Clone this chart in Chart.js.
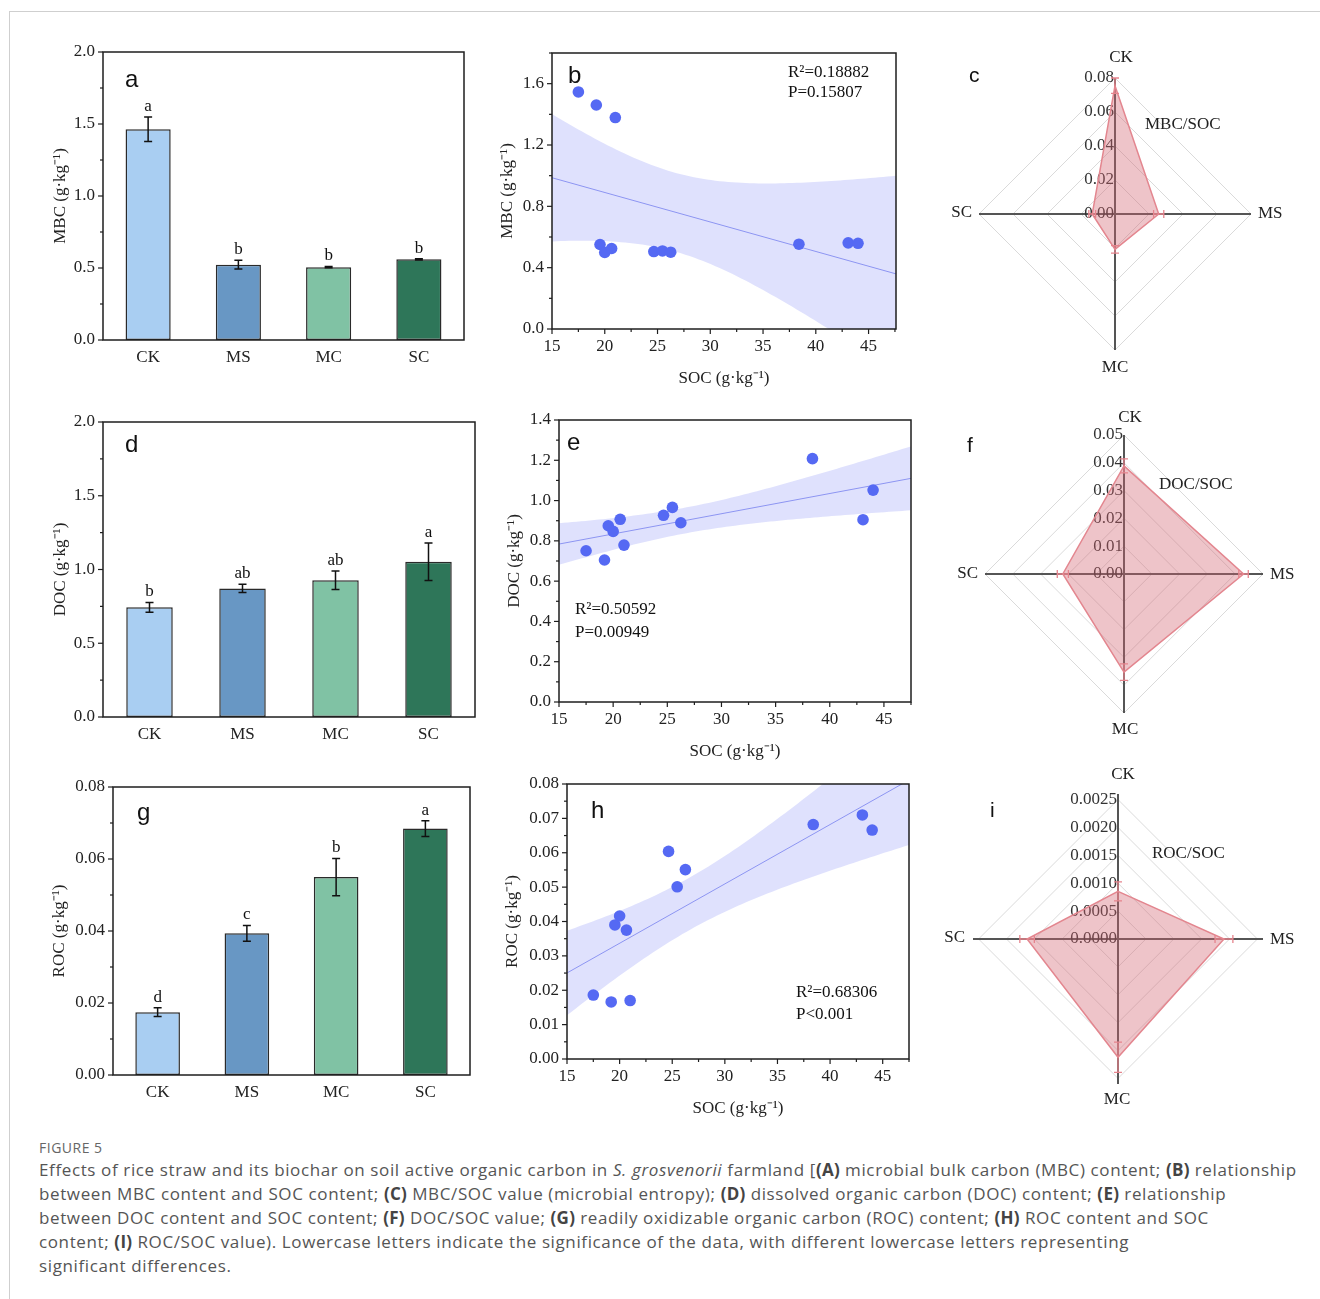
<!DOCTYPE html>
<html><head><meta charset="utf-8">
<script src="https://cdn.jsdelivr.net/npm/chart.js@4.4.1/dist/chart.umd.min.js"></script>
<style>
html,body{margin:0;padding:0;background:#fff}
body{width:1320px;height:1299px;position:relative;overflow:hidden}
canvas{position:absolute}
.frame{position:absolute;left:9px;top:11px;width:1400px;height:1400px;border-left:1px solid #cfcfcf;border-top:1px solid #cfcfcf}
#fig{position:absolute;left:39px;top:1138px;font:14px 'Open Sans',sans-serif;color:#666;letter-spacing:0.5px}
#cap{position:absolute;left:39px;top:1158px;font:17px/24px 'Open Sans',sans-serif;color:#555;white-space:nowrap;letter-spacing:0.62px}
#cap b{font-weight:700;color:#444;letter-spacing:0.3px}
</style></head><body>
<div class="frame"></div>
<div id="fig">FIGURE 5</div>
<div id="cap">Effects of rice straw and its biochar on soil active organic carbon in <i>S. grosvenorii</i> farmland [<b>(A)</b> microbial bulk carbon (MBC) content; <b>(B)</b> relationship<br>between MBC content and SOC content; <b>(C)</b> MBC/SOC value (microbial entropy); <b>(D)</b> dissolved organic carbon (DOC) content; <b>(E)</b> relationship<br>between DOC content and SOC content; <b>(F)</b> DOC/SOC value; <b>(G)</b> readily oxidizable organic carbon (ROC) content; <b>(H)</b> ROC content and SOC<br>content; <b>(I)</b> ROC/SOC value). Lowercase letters indicate the significance of the data, with different lowercase letters representing<br>significant differences.</div>
<script>
// ---------------- DATA ----------------
const groups = ['CK', 'MS', 'MC', 'SC'];
const barColors = ['#a9cef2', '#6897c4', '#80c2a4', '#2e7659'];

const mbcMean = [1.464, 0.523, 0.506, 0.560];
const mbcErr  = [0.085, 0.030, 0.005, 0.005];
const mbcSig  = ['a', 'b', 'b', 'b'];

const docMean = [0.744, 0.872, 0.927, 1.053];
const docErr  = [0.033, 0.028, 0.062, 0.127];
const docSig  = ['b', 'ab', 'ab', 'a'];

const rocMean = [0.01746, 0.03935, 0.05497, 0.06845];
const rocErr  = [0.0012, 0.0022, 0.0052, 0.0022];
const rocSig  = ['d', 'c', 'b', 'a'];

const soc    = [17.5, 19.2, 19.55, 20.0, 20.65, 21.0, 24.65, 25.47, 26.25, 38.4, 43.07, 44.0];
const mbcPts = [1.546, 1.461, 0.551, 0.499, 0.525, 1.379, 0.505, 0.509, 0.501, 0.553, 0.562, 0.559];
const docPts = [0.751, 0.705, 0.875, 0.847, 0.907, 0.779, 0.927, 0.966, 0.890, 1.208, 0.905, 1.052];
const rocPts = [0.0186, 0.0166, 0.0390, 0.0416, 0.0375, 0.0170, 0.0604, 0.0501, 0.0551, 0.0682, 0.0710, 0.0666];

const mbcRatio = [0.0755, 0.0257, 0.0208, 0.0134];
const mbcRatioErr = [0.0045, 0.0030, 0.0022, 0.0020];
const docRatio = [0.0389, 0.0430, 0.0353, 0.0220];
const docRatioErr = [0.0025, 0.0017, 0.0030, 0.0020];
const rocRatio = [0.000855, 0.00190, 0.00212, 0.00163];
const rocRatioErr = [0.00017, 0.00016, 0.00027, 0.00013];

const statsB = ['R\u00b2=0.18882', 'P=0.15807'];
const statsE = ['R\u00b2=0.50592', 'P=0.00949'];
const statsH = ['R\u00b2=0.68306', 'P<0.001'];

// ---------------- HELPERS ----------------
const SERIF = "'Liberation Serif','Times New Roman',serif";
const SANS = "'Liberation Sans',Arial,sans-serif";
Chart.defaults.font.family = SERIF;
Chart.defaults.color = '#222';

function mkCanvas(x, y, w, h) {
  const c = document.createElement('canvas');
  c.width = w; c.height = h;
  c.style.left = x + 'px'; c.style.top = y + 'px';
  c.style.width = w + 'px'; c.style.height = h + 'px';
  document.body.appendChild(c);
  return c;
}

const pageTexts = {
  id: 'pageTexts',
  afterDraw(chart, args, o) {
    if (!o || !o.items) return;
    const ctx = chart.ctx;
    o.items.forEach(it => {
      ctx.save();
      ctx.font = it.font; ctx.fillStyle = it.color || '#111';
      ctx.textAlign = it.align || 'left'; ctx.textBaseline = it.baseline || 'alphabetic';
      ctx.fillText(it.t, it.x - o.ox, it.y - o.oy);
      ctx.restore();
    });
  }
};

const frameTicks = {
  id: 'frameTicks',
  afterDatasetsDraw(chart, args, o) {
    if (!o || !o.on) return;
    const {ctx, chartArea: a, scales} = chart;
    ctx.save();
    ctx.strokeStyle = '#1e1e1e'; ctx.lineWidth = 1.5;
    ctx.strokeRect(a.left, a.top, a.right - a.left, a.bottom - a.top);
    ctx.lineWidth = 1.2;
    const ys = scales.y;
    for (let k = 0; ; k++) {
      const v = ys.min + k * o.yMinor;
      if (v > ys.max + 1e-9) break;
      const major = Math.abs(v / o.yMajor - Math.round(v / o.yMajor)) < 1e-6;
      const p = ys.getPixelForValue(v);
      ctx.beginPath(); ctx.moveTo(a.left, p); ctx.lineTo(a.left - (major ? 5 : 3), p); ctx.stroke();
    }
    if (o.xMinor) {
      const xs = scales.x;
      for (let k = 0; ; k++) {
        const v = xs.min + k * o.xMinor;
        if (v > xs.max + 1e-9) break;
        const major = Math.abs(v / o.xMajor - Math.round(v / o.xMajor)) < 1e-6;
        const p = xs.getPixelForValue(v);
        ctx.beginPath(); ctx.moveTo(p, a.bottom); ctx.lineTo(p, a.bottom + (major ? 5 : 3)); ctx.stroke();
      }
    }
    ctx.restore();
  }
};

const barErr = {
  id: 'barErr',
  afterDatasetsDraw(chart, args, o) {
    if (!o || !o.err) return;
    const meta = chart.getDatasetMeta(0), y = chart.scales.y, ctx = chart.ctx;
    ctx.save();
    meta.data.forEach((bar, i) => {
      const m = chart.data.datasets[0].data[i], e = o.err[i];
      const yt = y.getPixelForValue(m + e), yb = y.getPixelForValue(m - e), x = bar.x;
      ctx.strokeStyle = '#111'; ctx.lineWidth = 1.5;
      ctx.beginPath();
      ctx.moveTo(x, yt); ctx.lineTo(x, yb);
      ctx.moveTo(x - 4, yt); ctx.lineTo(x + 4, yt);
      ctx.moveTo(x - 4, yb); ctx.lineTo(x + 4, yb);
      ctx.stroke();
      ctx.font = '17px ' + SERIF; ctx.fillStyle = '#111';
      ctx.textAlign = 'center'; ctx.textBaseline = 'alphabetic';
      ctx.fillText(o.sig[i], x, yt - 6);
    });
    ctx.restore();
  }
};

const radarExtras = {
  id: 'radarExtras',
  beforeDatasetsDraw(chart, args, o) {
    if (!o || !o.on) return;
    const r = chart.scales.r, ctx = chart.ctx;
    ctx.save();
    ctx.font = '17px ' + SERIF; ctx.fillStyle = '#333';
    ctx.textAlign = 'right'; ctx.textBaseline = 'middle';
    r.ticks.forEach(t => {
      const p = r.getPointPositionForValue(0, t.value);
      ctx.fillText(t.value.toFixed(o.dec), p.x - 1, p.y);
    });
    ctx.restore();
  },
  afterDatasetsDraw(chart, args, o) {
    if (!o || !o.on) return;
    const r = chart.scales.r, ctx = chart.ctx;
    const vals = chart.data.datasets[0].data;
    ctx.save();
    ctx.strokeStyle = '#e6848d'; ctx.lineWidth = 1.3;
    vals.forEach((v, i) => {
      const e = o.err[i];
      const p1 = r.getPointPositionForValue(i, v - e), p2 = r.getPointPositionForValue(i, v + e);
      const ang = r.getIndexAngle(i) - Math.PI / 2;
      const nx = -Math.sin(ang) * 4, ny = Math.cos(ang) * 4;
      ctx.beginPath();
      ctx.moveTo(p1.x, p1.y); ctx.lineTo(p2.x, p2.y);
      [p1, p2].forEach(p => { ctx.moveTo(p.x - nx, p.y - ny); ctx.lineTo(p.x + nx, p.y + ny); });
      ctx.stroke();
    });
    ctx.restore();
  }
};

function ols(x, y) {
  const n = x.length;
  const mx = x.reduce((s, v) => s + v, 0) / n, my = y.reduce((s, v) => s + v, 0) / n;
  let sxx = 0, sxy = 0, syy = 0;
  for (let i = 0; i < n; i++) { const dx = x[i] - mx, dy = y[i] - my; sxx += dx * dx; sxy += dx * dy; syy += dy * dy; }
  const b = sxy / sxx, a = my - b * mx;
  const s = Math.sqrt((syy - b * sxy) / (n - 2));
  return {a, b, mx, sxx, s, n};
}
const T_CRIT = 2.228; // t(0.975, df = 10)

const YW = 90, XH = 70, PT = 20, PR = 15, LH = 17 * 1.2;

function baseScales(spec, xOpts) {
  const A = spec.area, cx = A.l - YW;
  return {
    x: Object.assign({
      grid: {display: false, drawTicks: false}, border: {display: false},
      ticks: {font: {size: 17}, color: '#222', padding: 7, maxRotation: 0},
      afterFit: s => { s.height = XH; },
      title: spec.xTitle ? {display: true, text: spec.xTitle, font: {size: 17}, color: '#222',
        padding: {top: 0, bottom: (A.b + XH) - spec.xTitleY - LH / 2}} : {display: false}
    }, xOpts),
    y: {
      min: spec.yMin, max: spec.yMax,
      grid: {display: false, drawTicks: false}, border: {display: false},
      ticks: {stepSize: spec.yStep, includeBounds: false, font: {size: 17}, color: '#222', padding: 8,
        callback: v => v.toFixed(spec.yDec)},
      afterFit: s => { s.width = YW; },
      title: {display: true, text: spec.yTitle, font: {size: 17}, color: '#222',
        padding: {top: spec.yTitleX - cx - LH / 2, bottom: 0}}
    }
  };
}

function textItems(spec) {
  const items = [{t: spec.letter, x: spec.letterPos[0], y: spec.letterPos[1], font: '24px ' + SANS, color: '#111'}];
  (spec.notes || []).forEach(n => items.push({t: n.t, x: n.x, y: n.y, font: '17px ' + SERIF, color: '#111'}));
  return items;
}

function barPanel(spec) {
  const A = spec.area, cx = A.l - YW, cy = A.t - PT;
  const cv = mkCanvas(cx, cy, A.r - A.l + YW + PR, A.b - A.t + PT + XH);
  new Chart(cv, {
    type: 'bar',
    data: {labels: groups, datasets: [{data: spec.mean, backgroundColor: barColors, borderColor: '#2a2a2a',
      borderWidth: 1.5, borderSkipped: false, categoryPercentage: 1.0, barPercentage: 0.5}]},
    options: {
      responsive: false, animation: false, devicePixelRatio: 1,
      layout: {padding: {top: PT, right: PR, left: 0, bottom: 0}},
      plugins: {legend: {display: false}, tooltip: {enabled: false},
        frameTicks: {on: true, yMinor: spec.yStep / 2, yMajor: spec.yStep},
        barErr: {err: spec.err, sig: spec.sig},
        pageTexts: {ox: cx, oy: cy, items: textItems(spec)}},
      scales: baseScales(spec, {})
    },
    plugins: [frameTicks, barErr, pageTexts]
  });
}

function scatterPanel(spec) {
  const A = spec.area, cx = A.l - YW, cy = A.t - PT;
  const cv = mkCanvas(cx, cy, A.r - A.l + YW + PR, A.b - A.t + PT + XH);
  const f = ols(spec.x, spec.y);
  const N = 80, up = [], lo = [];
  for (let k = 0; k <= N; k++) {
    const x = spec.xMin + (spec.xMax - spec.xMin) * k / N;
    const yh = f.a + f.b * x;
    const se = f.s * Math.sqrt(1 / f.n + (x - f.mx) * (x - f.mx) / f.sxx);
    up.push({x, y: yh + T_CRIT * se}); lo.push({x, y: yh - T_CRIT * se});
  }
  const fit = [{x: spec.xMin, y: f.a + f.b * spec.xMin}, {x: spec.xMax, y: f.a + f.b * spec.xMax}];
  new Chart(cv, {
    type: 'line',
    data: {datasets: [
      {data: spec.x.map((v, i) => ({x: v, y: spec.y[i]})), showLine: false, pointRadius: 5.8,
        pointBackgroundColor: '#5569f3', pointBorderWidth: 0, pointBorderColor: '#5569f3'},
      {data: fit, borderColor: '#8d95f2', borderWidth: 1, pointRadius: 0, fill: false},
      {data: up, borderWidth: 0, borderColor: 'rgba(0,0,0,0)', pointRadius: 0, fill: false},
      {data: lo, borderWidth: 0, borderColor: 'rgba(0,0,0,0)', pointRadius: 0, fill: '-1',
        backgroundColor: 'rgba(95,105,245,0.2)'}
    ]},
    options: {
      responsive: false, animation: false, devicePixelRatio: 1,
      layout: {padding: {top: PT, right: PR, left: 0, bottom: 0}},
      plugins: {legend: {display: false}, tooltip: {enabled: false},
        frameTicks: {on: true, yMinor: spec.yStep / 2, yMajor: spec.yStep, xMinor: 2.5, xMajor: 5},
        pageTexts: {ox: cx, oy: cy, items: textItems(spec)}},
      scales: baseScales(spec, {type: 'linear', min: spec.xMin, max: spec.xMax,
        ticks: {stepSize: 5, includeBounds: false, font: {size: 17}, color: '#222', padding: 7, maxRotation: 0,
          callback: v => String(v)}})
    },
    plugins: [frameTicks, pageTexts]
  });
}

function radarPanel(spec) {
  const {box, cx, cy, R} = spec;
  const cv = mkCanvas(box.x, box.y, box.w, box.h);
  const items = [{t: spec.letter, x: spec.letterPos[0], y: spec.letterPos[1], font: '21px ' + SANS, color: '#111'}];
  spec.labels.forEach(l => items.push({t: l.t, x: l.x, y: l.y, align: l.a, baseline: 'middle', font: '17px ' + SERIF, color: '#222'}));
  new Chart(cv, {
    type: 'radar',
    data: {labels: groups, datasets: [{data: spec.values, borderColor: '#e3868f', borderWidth: 1.5,
      backgroundColor: 'rgba(210,100,112,0.38)', pointRadius: 0, fill: true}]},
    options: {
      responsive: false, animation: false, devicePixelRatio: 1,
      layout: {padding: {left: cx - R - box.x, top: cy - R - box.y, right: box.x + box.w - cx - R, bottom: box.y + box.h - cy - R}},
      plugins: {legend: {display: false}, tooltip: {enabled: false},
        radarExtras: {on: true, dec: spec.dec, err: spec.err},
        pageTexts: {ox: box.x, oy: box.y, items}},
      scales: {r: {min: 0, max: spec.max, ticks: {display: false, stepSize: spec.step, includeBounds: false},
        pointLabels: {display: false},
        grid: {color: '#dadada', lineWidth: 1},
        angleLines: {color: '#555', lineWidth: 2}}}
    },
    plugins: [radarExtras, pageTexts]
  });
}

const mbcTitle = 'MBC (g\u00b7kg\u207b\u00b9)';
const docTitle = 'DOC (g\u00b7kg\u207b\u00b9)';
const rocTitle = 'ROC (g\u00b7kg\u207b\u00b9)';
const socTitle = 'SOC (g\u00b7kg\u207b\u00b9)';

// ---------------- PANELS ----------------
barPanel({area: {l: 103, t: 52, r: 464, b: 340}, mean: mbcMean, err: mbcErr, sig: mbcSig,
  yMin: 0, yMax: 2, yStep: 0.5, yDec: 1, yTitle: mbcTitle, yTitleX: 61, letter: 'a', letterPos: [125, 87]});
barPanel({area: {l: 103, t: 422, r: 475, b: 717}, mean: docMean, err: docErr, sig: docSig,
  yMin: 0, yMax: 2, yStep: 0.5, yDec: 1, yTitle: docTitle, yTitleX: 61, letter: 'd', letterPos: [125, 452]});
barPanel({area: {l: 113, t: 787, r: 470, b: 1075}, mean: rocMean, err: rocErr, sig: rocSig,
  yMin: 0, yMax: 0.08, yStep: 0.02, yDec: 2, yTitle: rocTitle, yTitleX: 60, letter: 'g', letterPos: [137, 820]});

scatterPanel({area: {l: 552, t: 53, r: 896, b: 329}, x: soc, y: mbcPts, xMin: 15, xMax: 47.6,
  yMin: 0, yMax: 1.8, yStep: 0.4, yDec: 1, yTitle: mbcTitle, yTitleX: 508, xTitle: socTitle, xTitleY: 379,
  letter: 'b', letterPos: [568, 83],
  notes: [{t: statsB[0], x: 788, y: 77}, {t: statsB[1], x: 788, y: 97}]});
scatterPanel({area: {l: 559, t: 420, r: 911, b: 702}, x: soc, y: docPts, xMin: 15, xMax: 47.5,
  yMin: 0, yMax: 1.4, yStep: 0.2, yDec: 1, yTitle: docTitle, yTitleX: 515, xTitle: socTitle, xTitleY: 752,
  letter: 'e', letterPos: [567, 450],
  notes: [{t: statsE[0], x: 575, y: 614}, {t: statsE[1], x: 575, y: 637}]});
scatterPanel({area: {l: 567, t: 784, r: 909, b: 1059}, x: soc, y: rocPts, xMin: 15, xMax: 47.5,
  yMin: 0, yMax: 0.08, yStep: 0.01, yDec: 2, yTitle: rocTitle, yTitleX: 513, xTitle: socTitle, xTitleY: 1109,
  letter: 'h', letterPos: [591, 818],
  notes: [{t: statsH[0], x: 796, y: 997}, {t: statsH[1], x: 796, y: 1019}]});

radarPanel({box: {x: 930, y: 30, w: 385, h: 370}, cx: 1115, cy: 214, R: 136, max: 0.08, step: 0.02, dec: 2,
  values: mbcRatio, err: mbcRatioErr, letter: 'c', letterPos: [969, 82],
  labels: [{t: 'CK', x: 1121, y: 58, a: 'center'}, {t: 'MS', x: 1258, y: 214, a: 'left'},
    {t: 'MC', x: 1115, y: 368, a: 'center'}, {t: 'SC', x: 972, y: 213, a: 'right'},
    {t: 'MBC/SOC', x: 1145, y: 125, a: 'left'}]});
radarPanel({box: {x: 930, y: 400, w: 385, h: 350}, cx: 1124, cy: 574, R: 139, max: 0.05, step: 0.01, dec: 2,
  values: docRatio, err: docRatioErr, letter: 'f', letterPos: [967, 452],
  labels: [{t: 'CK', x: 1130, y: 418, a: 'center'}, {t: 'MS', x: 1270, y: 575, a: 'left'},
    {t: 'MC', x: 1125, y: 730, a: 'center'}, {t: 'SC', x: 978, y: 574, a: 'right'},
    {t: 'DOC/SOC', x: 1159, y: 485, a: 'left'}]});
radarPanel({box: {x: 920, y: 755, w: 395, h: 370}, cx: 1118, cy: 939, R: 145, max: 0.0026, step: 0.0005, dec: 4,
  values: rocRatio, err: rocRatioErr, letter: 'i', letterPos: [990, 817],
  labels: [{t: 'CK', x: 1123, y: 775, a: 'center'}, {t: 'MS', x: 1270, y: 940, a: 'left'},
    {t: 'MC', x: 1117, y: 1100, a: 'center'}, {t: 'SC', x: 965, y: 938, a: 'right'},
    {t: 'ROC/SOC', x: 1152, y: 854, a: 'left'}]});
</script>
</body></html>
